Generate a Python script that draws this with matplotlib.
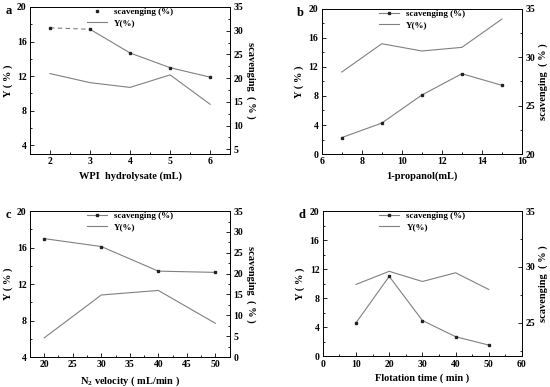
import matplotlib.pyplot as plt
from matplotlib.ticker import MultipleLocator, AutoMinorLocator

plt.rcParams['font.family'] = ['Liberation Serif', 'DejaVu Serif']
plt.rcParams['font.weight'] = 'bold'
plt.rcParams['font.size'] = 7
plt.rcParams['mathtext.fontset'] = 'custom'
plt.rcParams['mathtext.rm'] = 'Liberation Serif:bold'
plt.rcParams['mathtext.default'] = 'rm'

# ---- data ----
# a) WPI hydrolysate
xa = [2, 3, 4, 5, 6]
ya = [12.3, 11.25, 10.7, 12.15, 8.75]
sa = [30.6, 30.3, 25.3, 22.2, 20.2]
# b) 1-propanol
xb = [7, 9, 11, 13, 15]
yb = [11.3, 15.2, 14.2, 14.7, 18.6]
sb = [21.7, 23.2, 26.1, 28.3, 27.1]
# c) N2 velocity
xc = [20, 30, 40, 50]
yc = [6.1, 10.8, 11.3, 7.7]
sc = [28.4, 26.5, 20.6, 20.3]
# d) flotation time
xd = [10, 20, 30, 40, 50]
yd = [9.9, 11.7, 10.3, 11.5, 9.2]
sd = [25.0, 29.15, 25.2, 23.75, 23.0]

GRAY = '#808080'

fig = plt.figure(figsize=(5.5, 3.87), dpi=100)


def panel(rect, letter, x, y, s, xlim, xstep, ylim, ystep, slim, sstep,
          xlabel, right_rot, dashed_first=False):
    ax = fig.add_axes(rect)
    ax2 = ax.twinx()
    ly, = ax.plot(x, y, color=GRAY, lw=0.8)
    if dashed_first:
        ax2.plot(x[:2], s[:2], color=GRAY, lw=0.8, ls=(0, (4, 3)))
        ax2.plot(x[1:], s[1:], color=GRAY, lw=0.8)
        ls, = ax2.plot(x, s, ls='none', marker='s', ms=1.8, color='#222222')
    else:
        ls, = ax2.plot(x, s, color=GRAY, lw=0.8, marker='s', ms=1.8,
                       mfc='#222222', mec='#222222')
    ax.set_xlim(*xlim)
    ax.set_ylim(*ylim)
    ax2.set_ylim(*slim)
    ax.xaxis.set_major_locator(MultipleLocator(xstep))
    ax.xaxis.set_minor_locator(AutoMinorLocator(2))
    ax.yaxis.set_major_locator(MultipleLocator(ystep))
    ax.yaxis.set_minor_locator(AutoMinorLocator(2))
    ax2.yaxis.set_major_locator(MultipleLocator(sstep))
    ax2.yaxis.set_minor_locator(AutoMinorLocator(2))
    for a in (ax, ax2):
        a.tick_params(which='both', direction='in', labelsize=7, width=0.6,
                      pad=2.5)
        a.tick_params(which='major', length=3)
        a.tick_params(which='minor', length=1.5)
        for sp in a.spines.values():
            sp.set_linewidth(0.6)
    ax.set_xlabel(xlabel, fontsize=7.5, fontweight='bold', labelpad=3.5)
    ax.set_ylabel('Y ( % )', fontsize=7.5, fontweight='bold', labelpad=3)
    ax2.set_ylabel('scavenging  ( % )', fontsize=7.5, fontweight='bold',
                   rotation=right_rot, labelpad=9 if right_rot == 270 else 2)
    ax.legend([ls, ly], ['scavenging (%)', 'Y(%)'], loc='upper center',
              bbox_to_anchor=(0.5, 1.03), frameon=False, fontsize=6.5,
              handlelength=2.2, labelspacing=0.3, borderaxespad=0.2)
    fig.text(rect[0] - 0.045, rect[1] + rect[3] + 0.005, letter,
             fontsize=9, fontweight='bold', va='top')
    return ax


panel([0.0545, 0.602, 0.364, 0.380], 'a', xa, ya, sa, (1.5, 6.5), 1,
      (3, 20), 4, (4, 35), 5, 'WPI  hydrolysate (mL)', 270, dashed_first=True)
panel([0.585, 0.602, 0.364, 0.375], 'b', xb, yb, sb, (6, 16), 2,
      (0, 20), 4, (20, 35), 5, '1-propanol(mL)', 90)
panel([0.0545, 0.0775, 0.364, 0.377], 'c', xc, yc, sc, (17.5, 52.6), 5,
      (4, 20), 4, (0, 35), 5, 'N$_2$ velocity ( mL/min )', 270)
panel([0.587, 0.0795, 0.362, 0.375], 'd', xd, yd, sd, (0, 60), 10,
      (0, 20), 4, (22, 35), 5, 'Flotation time ( min )', 90)

fig.savefig('out.png', dpi=100)
